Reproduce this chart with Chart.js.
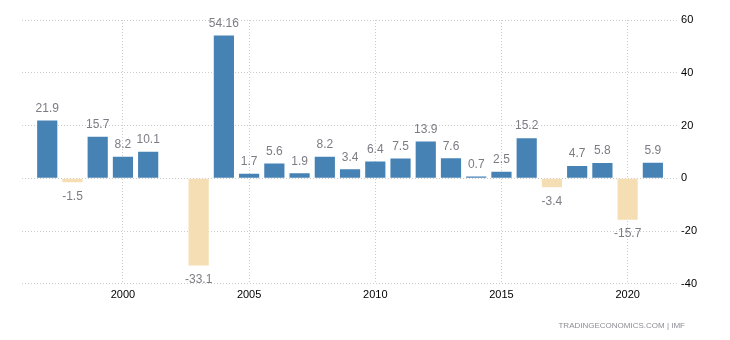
<!DOCTYPE html>
<html>
<head>
<meta charset="utf-8">
<script src="https://cdn.jsdelivr.net/npm/chart.js@4.4.0/dist/chart.umd.min.js"></script>
<style>
  html, body { margin: 0; padding: 0; background: #ffffff; }
  #wrap { width: 730px; height: 340px; }
</style>
</head>
<body>
<div id="wrap"><canvas id="c" width="730" height="340"></canvas></div>
<script>
const years = [1997,1998,1999,2000,2001,2002,2003,2004,2005,2006,2007,2008,2009,2010,2011,2012,2013,2014,2015,2016,2017,2018,2019,2020,2021];
const values = [21.9,-1.5,15.7,8.2,10.1,null,-33.1,54.16,1.7,5.6,1.9,8.2,3.4,6.4,7.5,13.9,7.6,0.7,2.5,15.2,-3.4,4.7,5.8,-15.7,5.9];
const xTicks = [2000,2005,2010,2015,2020];
const yTicks = [-40,-20,0,20,40,60];
const sourceText = 'TRADINGECONOMICS.COM | IMF';

const POS = '#4682B4';
const NEG = '#F5DEB3';
const FONT = 'Liberation Sans, Arial, sans-serif';

Chart.defaults.font.family = FONT;
Chart.defaults.font.size = 11;

const points = years.map((y, i) => ({ x: y, y: values[i] }));

const valueLabels = {
  id: 'valueLabels',
  afterDatasetsDraw(chart) {
    const ctx = chart.ctx;
    const meta = chart.getDatasetMeta(0);
    ctx.save();
    ctx.font = '12px ' + FONT;
    ctx.fillStyle = '#7c7c84';
    ctx.textAlign = 'center';
    ctx.textBaseline = 'middle';
    meta.data.forEach((el, i) => {
      const v = values[i];
      if (v === null || v === undefined) return;
      if (v >= 0) ctx.fillText(String(v), el.x, el.y - 12);
      else ctx.fillText(String(v), el.x, el.y + 14);
    });
    ctx.restore();
  }
};

const footer = {
  id: 'footer',
  afterDraw(chart) {
    const ctx = chart.ctx;
    ctx.save();
    ctx.font = '8px ' + FONT;
    ctx.fillStyle = '#8c8c94';
    ctx.textAlign = 'right';
    ctx.textBaseline = 'middle';
    ctx.fillText(sourceText, 685, 326);
    ctx.restore();
  }
};

new Chart(document.getElementById('c'), {
  type: 'bar',
  data: {
    datasets: [{
      data: points,
      backgroundColor: values.map(v => (v !== null && v < 0) ? NEG : POS),
      borderWidth: 0,
      barPercentage: 0.8,
      categoryPercentage: 1.0
    }]
  },
  plugins: [valueLabels, footer],
  options: {
    responsive: false,
    animation: false,
    layout: { padding: { left: 22, top: 20, right: 30, bottom: 33 } },
    plugins: { legend: { display: false }, tooltip: { enabled: false } },
    scales: {
      x: {
        type: 'linear',
        offset: false,
        min: 1996,
        max: 2022,
        afterBuildTicks(axis) { axis.ticks = xTicks.map(v => ({ value: v })); },
        grid: { color: '#cccccc', drawTicks: false, offset: false },
        border: { display: false, dash: [1, 2] },
        ticks: { color: '#000000', padding: 5, font: { size: 11 }, callback: v => String(v) }
      },
      y: {
        position: 'right',
        min: -40,
        max: 60,
        afterBuildTicks(axis) { axis.ticks = yTicks.map(v => ({ value: v })); },
        grid: { color: '#cccccc', drawTicks: false },
        border: { display: false, dash: [1, 2] },
        ticks: { color: '#000000', padding: 3, font: { size: 11 }, callback: v => String(v) }
      }
    }
  }
});
</script>
</body>
</html>
